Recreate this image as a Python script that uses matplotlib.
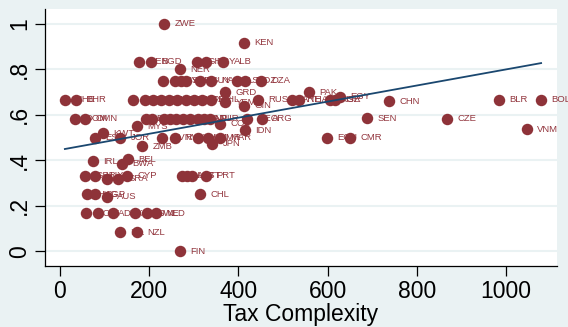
import numpy as np
import matplotlib
matplotlib.use("Agg")
import matplotlib.pyplot as plt

# tax complexity vs. share score, one point per country
tax_complexity = [
    233, 413,
    177, 204, 307, 327, 366,
    269,
    231, 258, 271, 283, 314, 339, 397, 415, 451,
    370, 558, 628,
    11, 36, 164, 191, 209, 226, 244, 262, 283, 301, 318, 339,
    370, 444, 520, 536, 606, 617, 738, 985, 1079,
    413,
    34, 56, 193, 206, 233, 247, 260, 276, 291, 309, 323, 336, 419, 453, 689, 868,
    359, 173, 415, 1047, 96,
    78, 135, 229, 258, 309, 332, 359, 599, 650,
    341, 184, 152, 74, 139,
    56, 78, 150, 274, 285, 296, 327, 105, 130,
    61, 78, 314, 105,
    58, 85, 119, 168, 195, 215,
    135, 173, 269,
]
score = [
    1.0, 0.917,
    0.833, 0.833, 0.833, 0.833, 0.833,
    0.80,
    0.75, 0.75, 0.75, 0.75, 0.75, 0.75, 0.75, 0.75, 0.75,
    0.70, 0.70, 0.68,
    0.667, 0.667, 0.667, 0.667, 0.667, 0.667, 0.667, 0.667, 0.667, 0.667, 0.667, 0.667,
    0.655, 0.667, 0.667, 0.667, 0.667, 0.667, 0.661, 0.667, 0.667,
    0.64,
    0.583, 0.583, 0.583, 0.583, 0.583, 0.583, 0.583, 0.583, 0.583, 0.583, 0.583, 0.583, 0.583, 0.583, 0.586, 0.583,
    0.56, 0.551, 0.533, 0.537, 0.52,
    0.5, 0.5, 0.5, 0.5, 0.5, 0.5, 0.5, 0.5, 0.5,
    0.473, 0.463, 0.405, 0.397, 0.384,
    0.333, 0.333, 0.333, 0.333, 0.333, 0.333, 0.333, 0.318, 0.318,
    0.25, 0.25, 0.25, 0.239,
    0.167, 0.167, 0.167, 0.167, 0.167, 0.167,
    0.083, 0.083, 0.0,
]
country = [
    "ZWE", "KEN",
    "BEN", "BGD", "GHA", "PRY", "ALB",
    "NER",
    "UZB", "SYC", "SUR", "SLV", "GUY", "NAM", "LSO", "MOZ", "DZA",
    "GRD", "PAK", "EGY",
    "CHE", "BHR", "GTM", "HND", "LBN", "TUN", "UGA", "TZA", "MLI", "NGA", "PER", "PHL",
    "YEM", "RUS", "ARE", "THA", "KGZ", "ISR", "CHN", "BLR", "BOL",
    "GIN",
    "DOM", "OMN", "BRB", "LKA", "MUS", "MEX", "KAZ", "JAM", "TTO", "PAN", "NPL", "TUR", "GEO", "ARG", "SEN", "CZE",
    "COL", "MYS", "IDN", "VNM", "KWT",
    "EST", "JOR", "SVN", "RWA", "HUN", "MMR", "MAR", "ECU", "CMR",
    "JPN", "ZMB", "BEL", "IRL", "BWA",
    "GBR", "LUX", "CYP", "NLD", "AUT", "EST", "PRT", "ITA", "SRA",
    "HKG", "SGP", "CHL", "AUS",
    "NOR", "LVA", "DNK", "DEU", "SWE", "NLD",
    "ISL", "NZL", "FIN",
]

# fitted line (intercept, slope)
fit_intercept = 0.446
fit_slope = 0.000354

maroon = "#8E3339"
navy = "#1A476F"
bg = "#EAF2F3"

fig = plt.figure(figsize=(5.68, 3.27), dpi=100, facecolor=bg)
ax = fig.add_axes([0.0792, 0.1865, 0.9014, 0.786])
ax.set_facecolor("white")

ax.scatter(tax_complexity, score, s=68, color=maroon, linewidths=0, zorder=3)
for xv, yv, lab in zip(tax_complexity, score, country):
    ax.annotate(lab, (xv, yv), xytext=(7.5, 0), textcoords="offset points",
                va="center", ha="left", fontsize=6.8, color="#93363E",
                family="Liberation Sans", zorder=2)

# linear fit over the range of the data
xs = np.array([min(tax_complexity), max(tax_complexity)])
ax.plot(xs, fit_intercept + fit_slope * xs, color=navy, lw=1.3, zorder=4)

ax.set_xlim(-33.6, 1114.6)
ax.set_ylim(-0.065, 1.066)
ax.set_xticks([0, 200, 400, 600, 800, 1000])
ax.set_yticks([0, 0.2, 0.4, 0.6, 0.8, 1.0])
ax.set_yticklabels(["0", ".2", ".4", ".6", ".8", "1"], rotation=90, va="center")
ax.grid(axis="y", color=bg, lw=1.5, zorder=0)
ax.set_axisbelow(True)
for side in ["top", "right"]:
    ax.spines[side].set_visible(False)
for side in ["left", "bottom"]:
    ax.spines[side].set_linewidth(0.9)
ax.tick_params(length=7, width=0.9, labelsize=16.5, pad=3)
for t in ax.get_xticklabels() + ax.get_yticklabels():
    t.set_family("Liberation Sans")
ax.set_xlabel("Tax Complexity", fontsize=16.5, family="Liberation Sans", labelpad=0)

fig.savefig("out.png", dpi=100, facecolor=bg)
